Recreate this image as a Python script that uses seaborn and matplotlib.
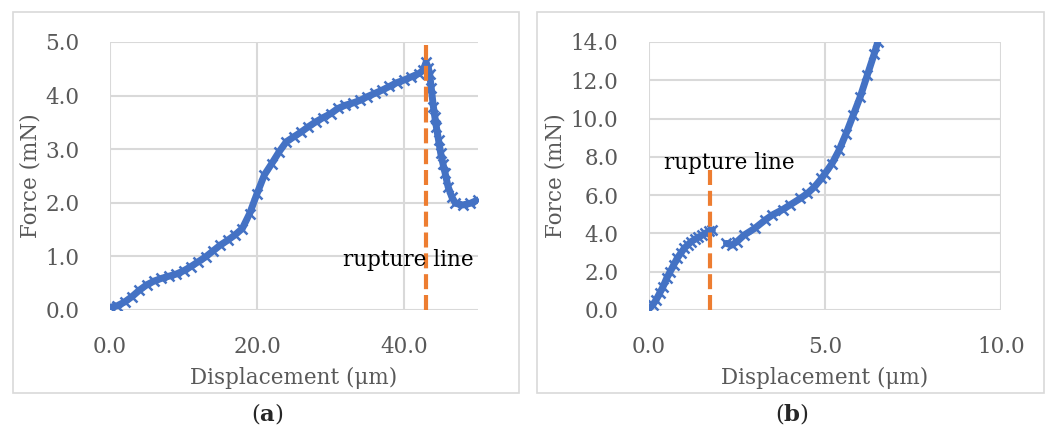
import pandas as pd
import matplotlib
matplotlib.use('Agg')
import matplotlib.pyplot as plt
import matplotlib.patches as patches
import seaborn as sns

# Панель (a): смещение (мкм) и сила (мН)
disp_a = [0, 1, 2, 3, 4, 5, 6, 7, 8, 9, 10, 11, 12, 13, 14, 15, 16, 17, 18, 19,
          20, 21, 22, 23, 24, 25, 26, 27, 28, 29, 30, 31, 32, 33, 34, 35, 36, 37,
          38, 39, 40, 41, 42, 42.6, 43.0, 43.3, 43.5, 43.7, 44.0, 44.2, 44.4, 44.7,
          45.0, 45.3, 45.6, 46.0, 46.5, 47, 48, 49, 50]
force_a = [0.05, 0.08, 0.15, 0.25, 0.37, 0.47, 0.54, 0.59, 0.63, 0.67, 0.73, 0.81,
           0.90, 0.99, 1.10, 1.21, 1.30, 1.40, 1.52, 1.80, 2.17, 2.52, 2.73, 2.95,
           3.14, 3.23, 3.32, 3.42, 3.51, 3.59, 3.66, 3.76, 3.82, 3.86, 3.91, 3.98,
           4.04, 4.10, 4.17, 4.24, 4.29, 4.35, 4.41, 4.47, 4.62, 4.52, 4.40, 4.15,
           3.79, 3.60, 3.42, 3.17, 2.92, 2.73, 2.55, 2.30, 2.11, 1.99, 1.96, 1.99,
           2.05]
rupture_a = 43.0

# Панель (b): до и после разрыва
disp_b1 = [0.0, 0.1, 0.2, 0.3, 0.4, 0.5, 0.6, 0.7, 0.8, 0.9, 1.0, 1.1, 1.2, 1.3,
           1.4, 1.5, 1.6, 1.7, 1.8]
force_b1 = [0.05, 0.25, 0.52, 0.87, 1.22, 1.65, 2.00, 2.35, 2.70, 2.96, 3.22, 3.40,
            3.57, 3.69, 3.79, 3.90, 4.00, 4.12, 4.17]
disp_b2 = [2.2, 2.35, 2.5, 2.7, 3.0, 3.3, 3.5, 3.8, 4.0, 4.3, 4.5, 4.7, 4.9, 5.0,
           5.2, 5.4, 5.6, 5.8, 6.0, 6.2, 6.4, 6.5]
force_b2 = [3.48, 3.39, 3.57, 3.91, 4.26, 4.70, 4.96, 5.25, 5.48, 5.83, 6.09, 6.43,
            6.87, 7.13, 7.65, 8.35, 9.22, 10.17, 11.13, 12.26, 13.39, 14.0]
rupture_b = 1.74
rupture_b_top = 7.3

blue = '#4472C4'
orange = '#ED7D31'
gray_text = '#595959'
grid_c = '#D9D9D9'
fs = 15.5

sns.set_style('white')
plt.rcParams['font.family'] = ['DejaVu Serif']
plt.rcParams['mathtext.fontset'] = 'dejavuserif'

W, H = 1052, 432
fig = plt.figure(figsize=(W / 100, H / 100), dpi=100)

# рамки панелей
for x0, x1 in [(13, 519), (537, 1044)]:
    fig.patches.append(patches.Rectangle((x0 / W, 1 - 393 / H), (x1 - x0) / W, (393 - 12) / H,
                                         transform=fig.transFigure, fill=False,
                                         edgecolor=grid_c, lw=1.2))

ax_a = fig.add_axes([110 / W, 1 - 310 / H, (477.5 - 110) / W, (310 - 42) / H])
ax_b = fig.add_axes([649 / W, 1 - 310 / H, (1001 - 649) / W, (310 - 42) / H])

df_a = pd.DataFrame({'disp': disp_a, 'force': force_a})
df_b1 = pd.DataFrame({'disp': disp_b1, 'force': force_b1})
df_b2 = pd.DataFrame({'disp': disp_b2, 'force': force_b2})

style = dict(color=blue, lw=5, marker='x', markersize=7, mew=1.8, mec=blue,
             sort=False, estimator=None)
sns.lineplot(data=df_a, x='disp', y='force', ax=ax_a, **style)
sns.lineplot(data=df_b1, x='disp', y='force', ax=ax_b, **style)
sns.lineplot(data=df_b2, x='disp', y='force', ax=ax_b, **style)

dash = (0, (3.6, 1.4))
ax_a.plot([rupture_a, rupture_a], [0, 5.0], color=orange, lw=3, ls=dash, zorder=3)
ax_b.plot([rupture_b, rupture_b], [0, rupture_b_top], color=orange, lw=3, ls=dash, zorder=3)

ax_a.text(31.7, 0.93, 'rupture line', fontsize=fs, color='black', va='center', ha='left')
ax_b.text(0.44, 7.7, 'rupture line', fontsize=fs, color='black', va='center', ha='left')

for ax, xlim, xt, ylim, yt in [(ax_a, (0, 50), [0, 20, 40], (0, 5), [0, 1, 2, 3, 4, 5]),
                               (ax_b, (0, 10), [0, 5, 10], (0, 14), list(range(0, 15, 2)))]:
    ax.set_xlim(*xlim)
    ax.set_ylim(*ylim)
    ax.set_xticks(xt)
    ax.set_yticks(yt)
    ax.set_xticklabels([f'{v:.1f}' for v in xt])
    ax.set_yticklabels([f'{v:.1f}' for v in yt])
    ax.grid(True, color=grid_c, lw=1.5)
    ax.set_axisbelow(True)
    for s in ax.spines.values():
        s.set_visible(False)
    ax.tick_params(axis='both', length=0, labelsize=fs, labelcolor=gray_text)
    ax.tick_params(axis='x', pad=19)
    ax.tick_params(axis='y', pad=22)
    ax.set_xlabel('Displacement (μm)', fontsize=fs, color=gray_text, labelpad=6)
    ax.set_ylabel('Force (mN)', fontsize=fs, color=gray_text, labelpad=3)
    ax.patch.set_alpha(0)

fig.text(267 / W, 1 - 414 / H, r'($\mathbf{a}$)', fontsize=16.5, ha='center', va='center')
fig.text(792 / W, 1 - 414 / H, r'($\mathbf{b}$)', fontsize=16.5, ha='center', va='center')

plt.savefig('out.png', dpi=100)
plt.close()
